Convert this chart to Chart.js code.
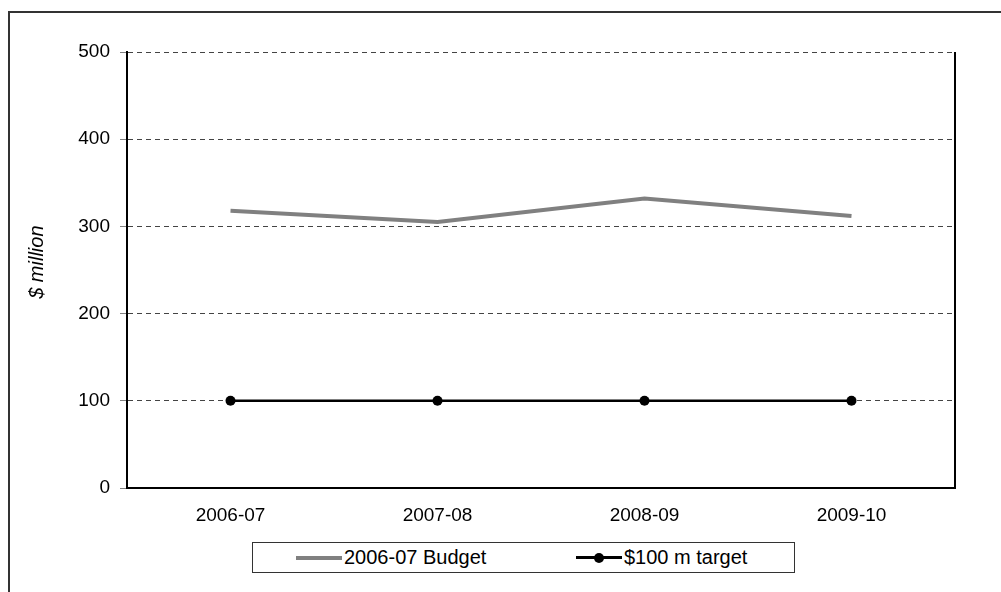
<!DOCTYPE html>
<html>
<head>
<meta charset="utf-8">
<script src="https://cdn.jsdelivr.net/npm/chart.js@4/dist/chart.umd.min.js"></script>
<style>
  html, body { margin: 0; padding: 0; background: #fff; }
  body { width: 1001px; height: 592px; position: relative; overflow: hidden; font-family: "Liberation Sans", Arial, sans-serif; }
  #frame { position: absolute; left: 8px; top: 11px; width: 1100px; height: 700px; border-left: 2px solid #333; border-top: 2px solid #333; box-sizing: border-box; }
  #wrap { position: absolute; left: 0; top: 0; width: 1001px; height: 592px; }
  #legend { position: absolute; left: 252px; top: 542px; width: 543px; height: 31px; border: 1px solid #333; box-sizing: border-box; background: #fff; font-size: 20px; color: #000; }
  .item { position: absolute; top: 0; height: 29px; display: flex; align-items: center; white-space: nowrap; }
  .swatch { position: relative; width: 46px; height: 12px; margin-right: 2px; }
  .swatch .ln { position: absolute; left: 0; right: 0; top: 50%; }
  .swatch .dot { position: absolute; left: 50%; top: 50%; width: 10px; height: 10px; margin: -5px 0 0 -5px; border-radius: 50%; background: #000; }
</style>
</head>
<body>
<div id="frame"></div>
<div id="wrap"><canvas id="c" width="1001" height="592"></canvas></div>
<div id="legend"></div>
<script>
const categories = ["2006-07", "2007-08", "2008-09", "2009-10"];
const budgetLabel = "2006-07 Budget";
const budgetValues = [318, 305, 332, 312];
const targetLabel = "$100 m target";
const targetValues = [100, 100, 100, 100];
const yTicks = [0, 100, 200, 300, 400, 500];
const yTitle = "$ million";

const budgetColor = "#808080";
const targetColor = "#000000";
const FONT = "'Liberation Sans', Arial";

// HTML legend
const legend = document.getElementById("legend");
function addItem(left, label, color, width, dot) {
  const it = document.createElement("div");
  it.className = "item";
  it.style.left = left + "px";
  const sw = document.createElement("div");
  sw.className = "swatch";
  const ln = document.createElement("div");
  ln.className = "ln";
  ln.style.height = width + "px";
  ln.style.marginTop = (-width / 2) + "px";
  ln.style.background = color;
  sw.appendChild(ln);
  if (dot) { const d = document.createElement("div"); d.className = "dot"; sw.appendChild(d); }
  it.appendChild(sw);
  const t = document.createElement("span");
  t.textContent = label;
  it.appendChild(t);
  legend.appendChild(it);
}
addItem(43, budgetLabel, budgetColor, 4, false);
addItem(323, targetLabel, targetColor, 3, true);

const extras = {
  id: "extras",
  afterDraw(chart) {
    const a = chart.chartArea, ctx = chart.ctx;
    ctx.save();
    // right border of plot area
    ctx.strokeStyle = "#000";
    ctx.lineWidth = 2;
    ctx.beginPath();
    ctx.moveTo(a.right, a.top);
    ctx.lineTo(a.right, a.bottom);
    ctx.stroke();
    // y-axis title
    ctx.translate(37, a.top + (a.bottom - a.top) * 0.482);
    ctx.rotate(-Math.PI / 2);
    ctx.font = "italic 20px " + FONT;
    ctx.fillStyle = "#000";
    ctx.textAlign = "center";
    ctx.textBaseline = "middle";
    ctx.fillText(yTitle, 0, 0);
    ctx.restore();
  }
};

new Chart(document.getElementById("c"), {
  type: "line",
  data: {
    labels: categories,
    datasets: [
      { label: budgetLabel, data: budgetValues, borderColor: budgetColor, backgroundColor: budgetColor, borderWidth: 4, pointRadius: 0, tension: 0 },
      { label: targetLabel, data: targetValues, borderColor: targetColor, backgroundColor: targetColor, borderWidth: 2.5, pointRadius: 5, pointBackgroundColor: targetColor, pointBorderWidth: 0, tension: 0 }
    ]
  },
  options: {
    responsive: false,
    animation: false,
    devicePixelRatio: 1,
    layout: { padding: { left: 0, right: 46, top: 52, bottom: 64 } },
    plugins: { legend: { display: false }, tooltip: { enabled: false } },
    scales: {
      x: {
        offset: true,
        grid: { display: false, drawTicks: false },
        border: { display: true, color: "#000", width: 2 },
        ticks: { color: "#000", font: { family: FONT, size: 19 }, padding: 16 },
        afterFit(s) { s.height = 40; }
      },
      y: {
        min: 0, max: 500,
        afterBuildTicks(s) { s.ticks = yTicks.map(v => ({ value: v })); },
        grid: { color: "#444", lineWidth: 1, tickLength: 7, tickColor: "#808080", tickBorderDash: [], drawTicks: true },
        border: { display: true, color: "#000", width: 2, dash: [5, 4] },
        ticks: { color: "#000", font: { family: FONT, size: 19 }, padding: 10 },
        title: { display: false, text: yTitle },
        afterFit(s) { s.width = 127; }
      }
    }
  },
  plugins: [extras]
});
</script>
</body>
</html>
